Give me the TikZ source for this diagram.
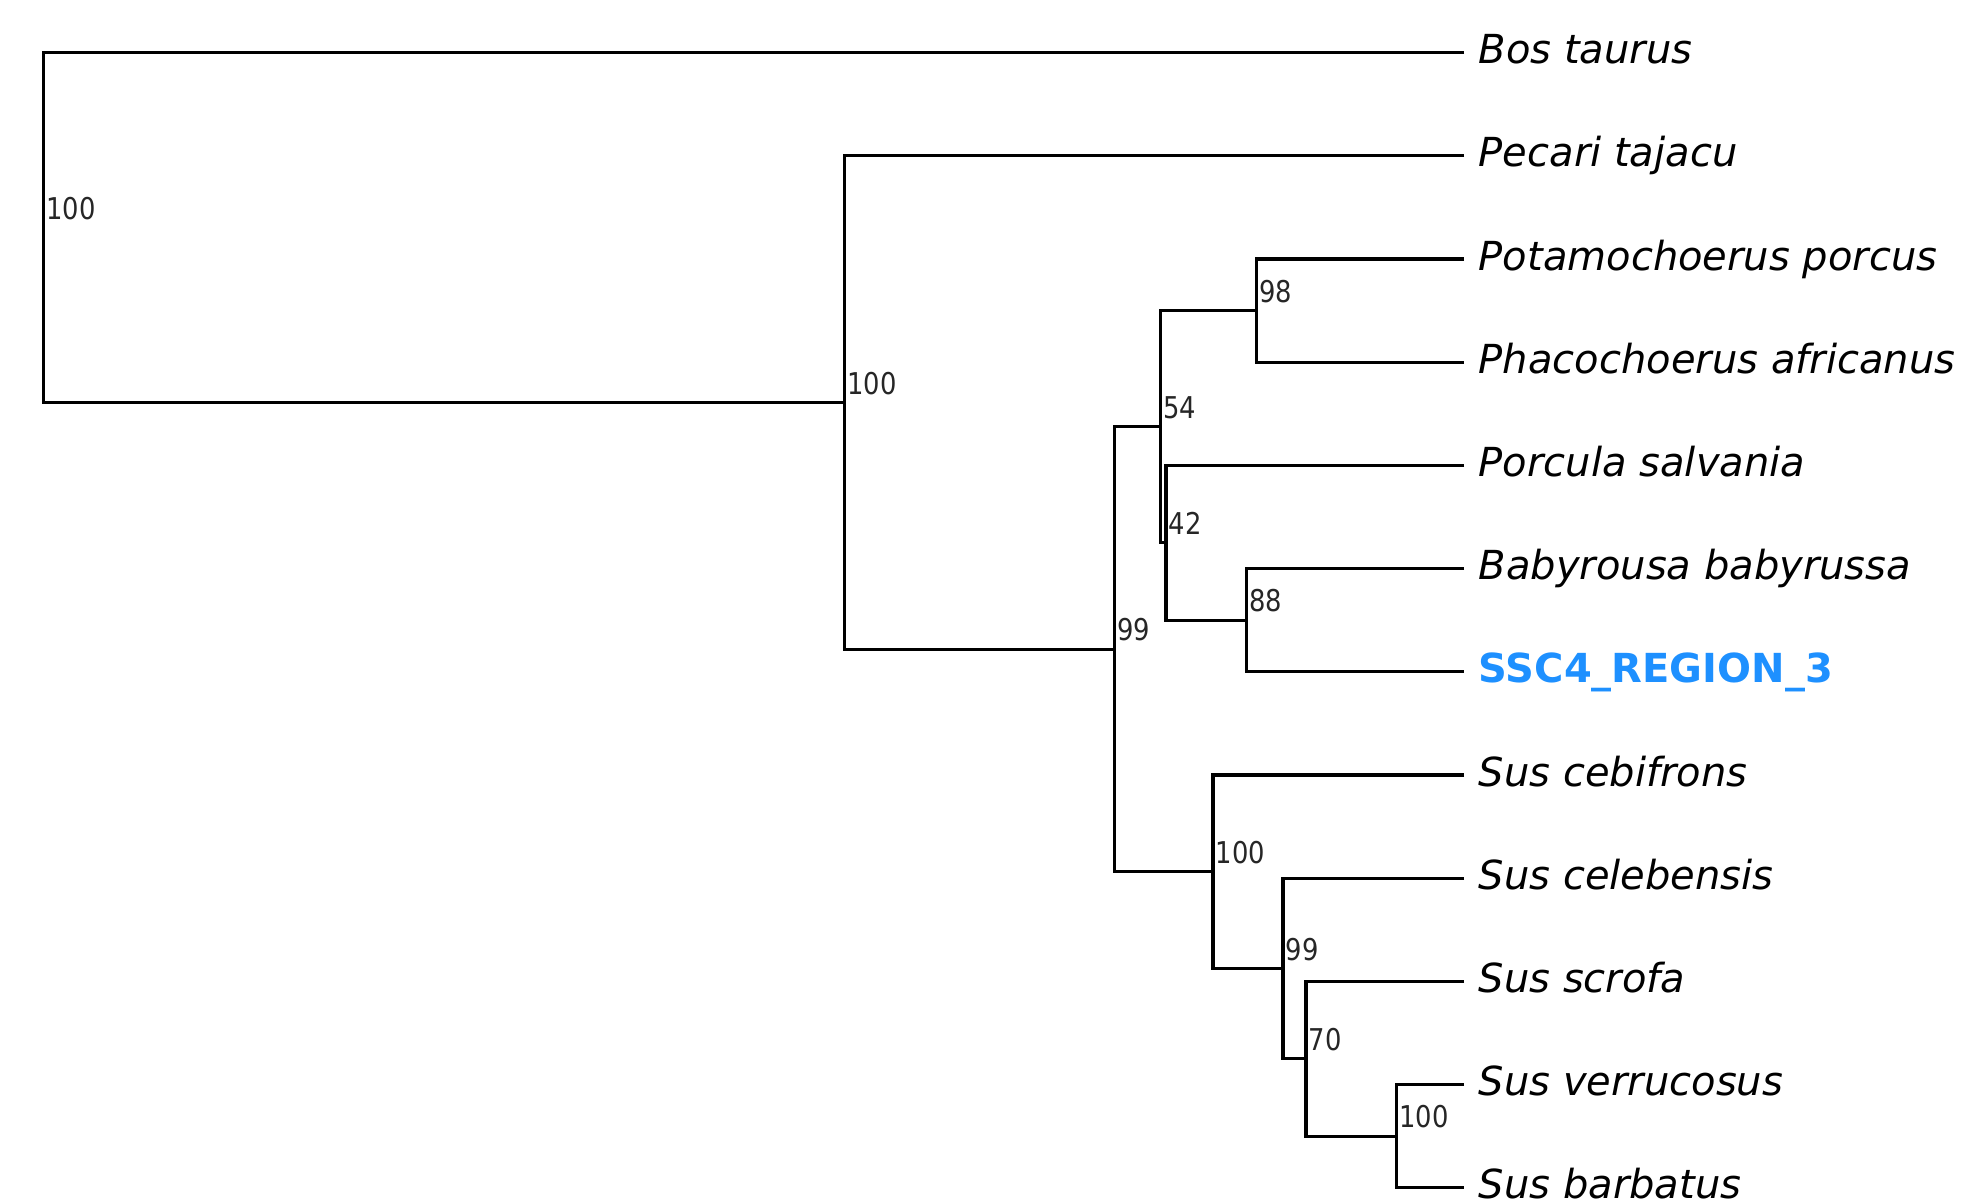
\documentclass[tikz,border=0pt]{standalone}
\usepackage{fontspec}
\setmainfont{DejaVu Sans}
\newfontfamily\numfont[FakeStretch=0.86]{DejaVu Sans}
\definecolor{hiblue}{RGB}{30,144,255}
\begin{document}
\begin{tikzpicture}[x=0.5pt,y=-0.5pt,
  br/.style={line width=1.65pt, line join=miter, line cap=butt},
  sp/.style={font=\fontsize{20pt}{24pt}\selectfont\itshape, anchor=base west, inner sep=0pt, yshift=-5.5pt},
  hi/.style={font=\fontsize{20pt}{24pt}\selectfont\bfseries, text=hiblue, anchor=base west, inner sep=0pt, yshift=-5.5pt},
  bsl/.style={font=\numfont\fontsize{15pt}{18pt}\selectfont, text=black!85, anchor=base west, inner sep=0pt, xshift=1.2pt, yshift=4.25pt}]
\useasboundingbox (0,0) rectangle (1965,1201);
% leaves (line ends)
\coordinate (L0) at (1464,52.6);
\coordinate (L1) at (1464,155.8);
\coordinate (L2) at (1464,259.0);
\coordinate (L3) at (1464,362.2);
\coordinate (L4) at (1464,465.4);
\coordinate (L5) at (1464,568.6);
\coordinate (L6) at (1464,671.8);
\coordinate (L7) at (1464,775.0);
\coordinate (L8) at (1464,878.2);
\coordinate (L9) at (1464,981.4);
\coordinate (L10) at (1464,1084.6);
\coordinate (L11) at (1464,1187.8);
% internal nodes
\coordinate (N100b) at (1396.5,1136.2);
\coordinate (N70) at (1306,1058.8);
\coordinate (N99b) at (1283,968.5);
\coordinate (NS100) at (1213,871.75);
\coordinate (N88) at (1246.5,620.2);
\coordinate (N42) at (1166,542.8);
\coordinate (N98) at (1256.5,310.6);
\coordinate (N54) at (1160.5,426.7);
\coordinate (N99) at (1114.5,649.2);
\coordinate (N100a) at (844.5,402.5);
\coordinate (R) at (43.5,227.6);
% branches
\draw[br] (L0) -| (R) |- (N100a);
\draw[br] (L1) -| (N100a) |- (N99);
\draw[br] (N54) -| (N99) |- (NS100);
\draw[br] (N98) -| (N54) |- (N42);
\draw[br] (L2) -| (N98) |- (L3);
\draw[br] (L4) -| (N42) |- (N88);
\draw[br] (L5) -| (N88) |- (L6);
\draw[br] (L7) -| (NS100) |- (N99b);
\draw[br] (L8) -| (N99b) |- (N70);
\draw[br] (L9) -| (N70) |- (N100b);
\draw[br] (L10) -| (N100b) |- (L11);
% leaf labels
\node[sp] (t0) at ([xshift=7.2pt]L0) {Bos taurus};
\node[sp] (t1) at ([xshift=7.2pt]L1) {Pecari tajacu};
\node[sp] (t2) at ([xshift=7.2pt]L2) {Potamochoerus porcus};
\node[sp] (t3) at ([xshift=7.2pt]L3) {Phacochoerus africanus};
\node[sp] (t4) at ([xshift=7.2pt]L4) {Porcula salvania};
\node[sp] (t5) at ([xshift=7.2pt]L5) {Babyrousa babyrussa};
\node[hi] (t6) at ([xshift=7.2pt]L6) {SSC4\_REGION\_3};
\node[sp] (t7) at ([xshift=7.2pt]L7) {Sus cebifrons};
\node[sp] (t8) at ([xshift=7.2pt]L8) {Sus celebensis};
\node[sp] (t9) at ([xshift=7.2pt]L9) {Sus scrofa};
\node[sp] (t10) at ([xshift=7.2pt]L10) {Sus verrucosus};
\node[sp] (t11) at ([xshift=7.2pt]L11) {Sus barbatus};
% support values
\node[bsl] (bR) at (R) {100};
\node[bsl] (bN100a) at (N100a) {100};
\node[bsl] (bN98) at (N98) {98};
\node[bsl] (bN54) at (N54) {54};
\node[bsl] (bN42) at (N42) {42};
\node[bsl] (bN88) at (N88) {88};
\node[bsl] (bN99) at (N99) {99};
\node[bsl] (bNS100) at (NS100) {100};
\node[bsl] (bN99b) at (N99b) {99};
\node[bsl] (bN70) at (N70) {70};
\node[bsl] (bN100b) at (N100b) {100};
\end{tikzpicture}
\end{document}
